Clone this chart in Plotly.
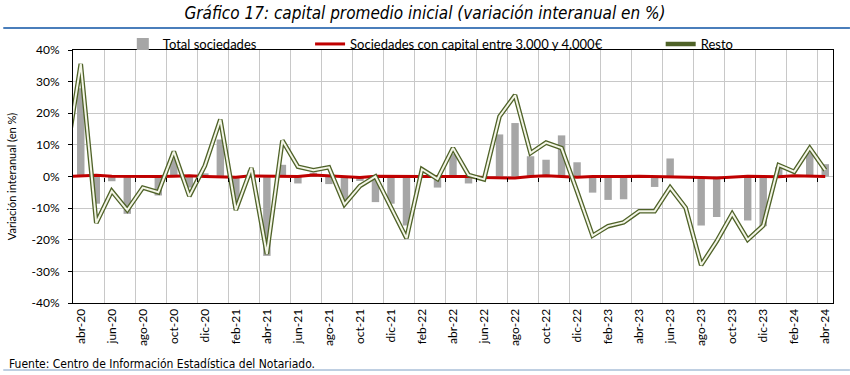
import plotly.graph_objects as go

# ---- data ----
months = ["mar-20",
          "abr-20", "may-20", "jun-20", "jul-20", "ago-20", "sep-20", "oct-20", "nov-20", "dic-20",
          "ene-21", "feb-21", "mar-21", "abr-21", "may-21", "jun-21", "jul-21", "ago-21", "sep-21",
          "oct-21", "nov-21", "dic-21", "ene-22", "feb-22", "mar-22", "abr-22", "may-22", "jun-22",
          "jul-22", "ago-22", "sep-22", "oct-22", "nov-22", "dic-22", "ene-23", "feb-23", "mar-23",
          "abr-23", "may-23", "jun-23", "jul-23", "ago-23", "sep-23", "oct-23", "nov-23", "dic-23",
          "ene-24", "feb-24", "mar-24", "abr-24"]

tick_labels = ["abr-20", "jun-20", "ago-20", "oct-20", "dic-20", "feb-21", "abr-21", "jun-21",
               "ago-21", "oct-21", "dic-21", "feb-22", "abr-22", "jun-22", "ago-22", "oct-22",
               "dic-22", "feb-23", "abr-23", "jun-23", "ago-23", "oct-23", "dic-23", "feb-24", "abr-24"]

total_sociedades = [None,
                    27.9, -8.6, -1.5, -11.8, -0.4, -6.0, 5.5, -3.5, 1.0,
                    11.7, -8.6, 2.0, -25.1, 3.7, -2.2, 1.2, -2.4, -7.8,
                    -1.4, -8.1, -8.6, -15.5, 0.3, -3.5, 7.1, -2.2, -0.5,
                    13.3, 16.9, 6.4, 5.3, 13.0, 4.5, -5.1, -7.4, -7.2,
                    -0.3, -3.3, 5.7, -0.3, -15.5, -12.8, -0.3, -13.9, -15.7,
                    2.9, 0.5, 7.5, 3.9]

capital_3000_4000 = [0.0,
                     0.3, 0.4, 0.1, 0.0, -0.1, 0.0, 0.1, 0.2, 0.0,
                     0.0, -0.2, 0.2, 0.1, 0.2, 0.0, 0.5, 0.2, -0.2,
                     -0.3, 0.1, 0.0, 0.1, 0.0, 0.0, 0.1, 0.0, -0.3,
                     -0.4, -0.5, 0.0, 0.2, 0.0, -0.2, 0.0, -0.1, 0.0,
                     0.1, 0.0, 0.1, -0.1, -0.3, -0.5, -0.2, 0.1, 0.0,
                     -0.1, 0.2, 0.1, 0.0]

resto = [4.2,
         35.6, -14.7, -4.6, -10.6, -3.5, -5.0, 7.9, -6.2, 3.4,
         18.0, -10.6, 2.7, -24.5, 11.4, 3.1, 2.0, 2.9, -8.8,
         -3.0, 0.0, -9.6, -19.5, 2.3, -0.8, 9.0, 0.5, -0.9,
         19.0, 25.7, 7.4, 10.7, 9.0, -4.7, -18.7, -15.7, -14.5,
         -11.0, -11.0, -3.5, -9.9, -28.0, -20.5, -11.8, -20.0, -15.5,
         3.6, 1.5, 9.0, 2.0]

y_ticks = [40, 30, 20, 10, 0, -10, -20, -30, -40]
y_tick_labels = ["40%", "30%", "20%", "10%", "0%", "-10%", "-20%", "-30%", "-40%"]

# ---- geometry helpers (pixels -> paper) ----
W, H = 850, 375
L, R, T, B = 70, 17, 50, 72
pw, ph = W - L - R, H - T - B


def px(xp):
    return (xp - L) / pw


def py(yp):
    return (H - B - yp) / ph


FONT = "Lato, Carlito, Calibri, sans-serif"
NARROW = "Liberation Sans Narrow, Arial Narrow, DejaVu Sans Condensed, sans-serif"

fig = go.Figure()

fig.add_trace(go.Bar(x=months, y=total_sociedades, name="Total sociedades",
                     marker=dict(color="#A6A6A6", line=dict(width=0)),
                     legend="legend"))
fig.add_trace(go.Scatter(x=months, y=capital_3000_4000, mode="lines",
                         name="Sociedades con capital entre 3.000 y 4.000€",
                         line=dict(color="#C00000", width=3), legend="legend2"))
fig.add_trace(go.Scatter(x=months, y=resto, mode="lines", name="Resto",
                         line=dict(color="#4F6228", width=4.6), legend="legend3"))
fig.add_trace(go.Scatter(x=months, y=resto, mode="lines", name="Resto",
                         line=dict(color="#F4F6E8", width=2.0), showlegend=False))
# invisible trace carrying the secondary (gridline) axis
fig.add_trace(go.Scatter(x=[1], y=[0], xaxis="x2", mode="markers",
                         marker=dict(opacity=0), showlegend=False, hoverinfo="skip"))

grid_pos = [k + 0.5 for k in range(2, 49, 2)]

fig.update_layout(
    width=W, height=H,
    margin=dict(l=L, r=R, t=T, b=B),
    paper_bgcolor="white", plot_bgcolor="white",
    bargap=0.52,
    font=dict(family=FONT, size=12, color="black"),
    title=dict(text="Gráfico 17: capital promedio inicial (variación interanual en %)",
               x=0.5, xanchor="center", xref="container",
               y=1 - 13 / H, yanchor="middle", yref="container",
               font=dict(family=NARROW, size=17, color="black", style="italic")),
    xaxis=dict(type="category", range=[0.5, 49.5], showgrid=False, zeroline=False,
               showline=True, linecolor="black", linewidth=1, mirror=True,
               tickmode="array", tickvals=tick_labels, ticktext=tick_labels,
               tickangle=-90, ticks="", tickfont=dict(size=12)),
    xaxis2=dict(overlaying="x", anchor="free", position=0.5, side="bottom",
                range=[0.5, 49.5], tickmode="array", tickvals=grid_pos,
                showticklabels=False, ticks="outside", ticklen=4, tickcolor="black",
                showgrid=True, gridcolor="#C8C8C8", gridwidth=1,
                showline=False, zeroline=False),
    yaxis=dict(range=[-40, 40], tickmode="array", tickvals=y_ticks, ticktext=y_tick_labels,
               showgrid=True, gridcolor="#C8C8C8", gridwidth=1, zeroline=False,
               showline=True, linecolor="black", linewidth=1, mirror=True,
               ticks="outside", ticklen=4, tickcolor="black", ticklabelstandoff=6,
               tickfont=dict(size=12),
               title=dict(text="Variación interanual (en %)", font=dict(size=11), standoff=12)),
    legend=dict(orientation="h", x=px(120), xanchor="left", y=py(44), yanchor="middle",
                font=dict(size=13), bgcolor="rgba(0,0,0,0)"),
    legend2=dict(orientation="h", x=px(308), xanchor="left", y=py(44), yanchor="middle",
                 font=dict(size=13), bgcolor="rgba(0,0,0,0)"),
    legend3=dict(orientation="h", x=px(660), xanchor="left", y=py(44), yanchor="middle",
                 font=dict(size=13), bgcolor="rgba(0,0,0,0)"),
    showlegend=True,
)

fig.add_shape(type="line", xref="paper", yref="paper", x0=px(0), x1=px(W), y0=py(28), y1=py(28),
              line=dict(color="#4A7EBB", width=2))
fig.add_shape(type="line", xref="paper", yref="paper", x0=px(0), x1=px(W), y0=py(370), y1=py(370),
              line=dict(color="#7F9FC4", width=1))

fig.add_annotation(text="Fuente: Centro de Información Estadística del Notariado.",
                   xref="paper", yref="paper", x=px(4), y=py(364), xanchor="left", yanchor="middle",
                   showarrow=False, font=dict(family=NARROW, size=12, color="black"))

fig.write_html("out.html", config={"displayModeBar": False},
               post_script="document.body.style.margin='0';")
